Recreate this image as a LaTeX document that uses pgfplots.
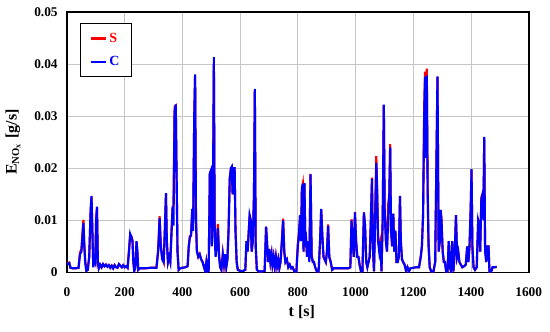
\documentclass[border=0pt]{standalone}
\usepackage{fontspec}
\setmainfont{Liberation Serif}
\usepackage{pgfplots}
\usepackage{pgfplotstable}
\pgfplotsset{compat=1.18}
\pgfplotstableread{
t C S
0 0.0015 0.0016
3 0.0017 0.0018
8 0.0018 0.0019
12 0.0009 0.0009
20 0.0008 0.0008
30 0.0008 0.0008
40 0.0009 0.0009
45 0.0035 0.0038
50 0.0040 0.0045
54 0.0070 0.0080
57 0.0095 0.0101
60 0.0050 0.0055
63 0.0020 0.0025
67 0.0003 0.0003
72 0.0005 0.0005
77 0.0030 0.0030
82 0.0120 0.0120
85 0.0147 0.0145
88 0.0080 0.0080
91 0.0010 0.0012
95 0.0025 0.0025
98 0.0020 0.0020
101 0.0100 0.0105
104 0.0126 0.0124
107 0.0020 0.0020
110 0.0008 0.0008
115 0.0015 0.0015
120 0.0010 0.0010
125 0.0016 0.0016
130 0.0012 0.0012
135 0.0015 0.0015
140 0.0011 0.0011
145 0.0014 0.0014
150 0.0009 0.0009
155 0.0013 0.0013
160 0.0008 0.0008
165 0.0014 0.0014
170 0.0010 0.0010
175 0.0009 0.0009
180 0.0016 0.0016
185 0.0013 0.0013
190 0.0010 0.0010
195 0.0014 0.0014
200 0.0010 0.0010
205 0.0012 0.0012
210 0.0009 0.0009
215 0.0040 0.0045
219 0.0074 0.0072
223 0.0068 0.0070
227 0.0060 0.0062
230 0.0020 0.0020
233 0.0003 0.0003
237 0.0010 0.0010
241 0.0060 0.0058
244 0.0040 0.0040
247 0.0005 0.0005
252 0.0008 0.0008
270 0.0008 0.0008
290 0.0009 0.0009
310 0.0009 0.0009
316 0.0040 0.0045
321 0.0104 0.0108
325 0.0050 0.0055
330 0.0025 0.0028
335 0.0020 0.0020
339 0.0080 0.0080
343 0.0152 0.0150
346 0.0060 0.0060
350 0.0020 0.0020
354 0.0030 0.0030
358 0.0020 0.0022
362 0.0070 0.0080
366 0.0126 0.0122
369 0.0090 0.0130
373 0.0310 0.0318
377 0.0322 0.0320
380 0.0180 0.0180
383 0.0040 0.0040
387 0.0005 0.0005
392 0.0008 0.0008
400 0.0009 0.0009
410 0.0010 0.0010
418 0.0012 0.0012
422 0.0050 0.0050
426 0.0068 0.0070
430 0.0072 0.0070
434 0.0122 0.0118
437 0.0080 0.0085
441 0.0300 0.0300
444 0.0380 0.0378
447 0.0100 0.0110
450 0.0040 0.0045
455 0.0030 0.0030
460 0.0035 0.0035
465 0.0025 0.0025
470 0.0020 0.0020
475 0.0010 0.0010
479 0.0003 0.0003
483 0.0020 0.0020
487 0.0002 0.0002
491 0.0003 0.0003
495 0.0190 0.0190
499 0.0196 0.0195
502 0.0050 0.0060
506 0.0150 0.0170
509 0.0413 0.0400
512 0.0070 0.0080
515 0.0030 0.0040
519 0.0050 0.0060
523 0.0085 0.0093
527 0.0030 0.0035
531 0.0010 0.0010
535 0.0005 0.0005
540 0.0035 0.0035
544 0.0015 0.0015
548 0.0035 0.0035
552 0.0010 0.0010
556 0.0025 0.0025
560 0.0080 0.0085
564 0.0180 0.0180
568 0.0200 0.0200
571 0.0203 0.0200
574 0.0150 0.0150
577 0.0200 0.0200
581 0.0200 0.0200
584 0.0080 0.0080
588 0.0020 0.0020
592 0.0005 0.0005
600 0.0003 0.0003
610 0.0003 0.0003
618 0.0005 0.0005
622 0.0060 0.0060
626 0.0040 0.0040
630 0.0080 0.0080
633 0.0110 0.0108
637 0.0100 0.0100
640 0.0040 0.0040
644 0.0060 0.0060
648 0.0150 0.0150
651 0.0352 0.0350
654 0.0050 0.0050
658 0.0005 0.0005
665 0.0002 0.0002
675 0.0002 0.0002
685 0.0003 0.0003
690 0.0088 0.0088
694 0.0050 0.0050
697 0.0020 0.0020
701 0.0045 0.0045
705 0.0020 0.0020
709 0.0035 0.0035
712 0.0015 0.0015
716 0.0030 0.0030
720 0.0010 0.0010
724 0.0030 0.0030
728 0.0012 0.0012
732 0.0025 0.0025
736 0.0008 0.0008
740 0.0020 0.0020
745 0.0060 0.0065
749 0.0100 0.0103
753 0.0040 0.0040
757 0.0020 0.0020
762 0.0025 0.0025
767 0.0010 0.0010
772 0.0015 0.0015
777 0.0008 0.0008
782 0.0010 0.0010
788 0.0002 0.0002
795 0.0002 0.0002
800 0.0050 0.0055
804 0.0075 0.0075
808 0.0110 0.0110
811 0.0060 0.0060
814 0.0160 0.0162
817 0.0170 0.0170
820 0.0040 0.0040
823 0.0172 0.0170
826 0.0050 0.0050
829 0.0060 0.0060
832 0.0030 0.0030
836 0.0060 0.0060
840 0.0020 0.0025
844 0.0188 0.0189
848 0.0030 0.0035
852 0.0020 0.0020
856 0.0020 0.0020
860 0.0010 0.0010
866 0.0002 0.0002
872 0.0002 0.0002
877 0.0060 0.0060
881 0.0122 0.0120
885 0.0070 0.0070
889 0.0030 0.0030
893 0.0025 0.0025
897 0.0020 0.0020
901 0.0040 0.0040
905 0.0090 0.0092
909 0.0030 0.0030
914 0.0020 0.0020
919 0.0005 0.0005
925 0.0008 0.0008
950 0.0008 0.0008
975 0.0008 0.0008
982 0.0010 0.0010
986 0.0100 0.0102
990 0.0060 0.0060
994 0.0030 0.0030
998 0.0115 0.0116
1002 0.0060 0.0060
1006 0.0030 0.0030
1010 0.0030 0.0030
1014 0.0015 0.0015
1019 0.0002 0.0002
1024 0.0003 0.0003
1029 0.0115 0.0115
1033 0.0090 0.0090
1037 0.0020 0.0020
1041 0.0010 0.0010
1045 0.0020 0.0020
1049 0.0030 0.0030
1053 0.0100 0.0100
1057 0.0180 0.0182
1060 0.0050 0.0050
1064 0.0002 0.0002
1068 0.0100 0.0120
1072 0.0210 0.0223
1075 0.0150 0.0160
1078 0.0060 0.0070
1082 0.0040 0.0050
1086 0.0060 0.0060
1090 0.0002 0.0002
1094 0.0100 0.0100
1098 0.0322 0.0320
1101 0.0120 0.0120
1105 0.0060 0.0070
1109 0.0040 0.0040
1113 0.0100 0.0130
1117 0.0150 0.0150
1120 0.0240 0.0246
1123 0.0080 0.0080
1127 0.0050 0.0050
1131 0.0113 0.0113
1134 0.0040 0.0040
1138 0.0080 0.0080
1142 0.0020 0.0020
1146 0.0020 0.0020
1150 0.0030 0.0030
1154 0.0147 0.0147
1157 0.0060 0.0060
1161 0.0025 0.0025
1165 0.0020 0.0020
1170 0.0015 0.0015
1175 0.0003 0.0003
1180 0.0010 0.0010
1185 0.0002 0.0002
1190 0.0008 0.0008
1200 0.0009 0.0009
1210 0.0010 0.0010
1220 0.0010 0.0010
1226 0.0030 0.0030
1230 0.0050 0.0050
1234 0.0110 0.0110
1238 0.0300 0.0320
1241 0.0375 0.0385
1244 0.0220 0.0230
1247 0.0378 0.0391
1250 0.0150 0.0160
1253 0.0050 0.0060
1257 0.0010 0.0010
1262 0.0002 0.0002
1270 0.0002 0.0002
1276 0.0020 0.0020
1280 0.0200 0.0200
1284 0.0376 0.0374
1288 0.0040 0.0040
1292 0.0060 0.0060
1295 0.0120 0.0120
1298 0.0100 0.0100
1302 0.0040 0.0040
1306 0.0020 0.0020
1310 0.0020 0.0020
1314 0.0002 0.0002
1319 0.0002 0.0002
1323 0.0060 0.0060
1327 0.0010 0.0010
1331 0.0002 0.0002
1335 0.0060 0.0060
1339 0.0002 0.0002
1344 0.0040 0.0040
1348 0.0110 0.0110
1352 0.0030 0.0030
1356 0.0040 0.0040
1360 0.0020 0.0020
1365 0.0015 0.0015
1370 0.0010 0.0010
1376 0.0012 0.0012
1382 0.0015 0.0015
1387 0.0050 0.0050
1391 0.0020 0.0020
1395 0.0050 0.0050
1399 0.0120 0.0125
1402 0.0198 0.0196
1405 0.0050 0.0050
1409 0.0010 0.0010
1414 0.0005 0.0005
1420 0.0010 0.0010
1425 0.0100 0.0100
1429 0.0090 0.0100
1432 0.0040 0.0040
1436 0.0140 0.0145
1440 0.0150 0.0150
1443 0.0100 0.0110
1446 0.0260 0.0255
1449 0.0040 0.0050
1453 0.0020 0.0020
1457 0.0050 0.0050
1461 0.0050 0.0050
1464 0.0002 0.0002
1470 0.0002 0.0002
1475 0.0010 0.0010
1482 0.0010 0.0010
1489 0.0011 0.0011
}\datatable
\begin{document}
\begin{tikzpicture}
\begin{axis}[
  scale only axis,
  width=346.3pt, height=195.6pt,
  xmin=0, xmax=1600, ymin=0, ymax=0.05,
  xtick={0,200,...,1600},
  xticklabels={0,200,400,600,800,1000,1200,1400,1600},
  ytick={0,0.01,0.02,0.03,0.04,0.05},
  yticklabels={0,0.01,0.02,0.03,0.04,0.05},
  scaled y ticks=false, scaled x ticks=false,
  ticklabel style={font=\fontsize{10}{12}\selectfont\bfseries},
  xticklabel style={yshift=-7.5pt},
  yticklabel style={xshift=-3.5pt},
  major tick length=0pt,
  grid=major,
  grid style={gray!45, line width=0.5pt},
  axis line style={line width=1.4pt},
  xlabel={t [s]},
  ylabel={E\textsubscript{NO\textsubscript{x}} [g/s]},
  label style={font=\fontsize{12}{14}\selectfont\bfseries},
  xlabel style={at={([xshift=3pt,yshift=-30pt]axis description cs:0.5,0)}, anchor=center},
  ylabel style={at={([xshift=-40.5pt]axis description cs:0,0.5)}, anchor=center},
  legend style={at={(0.0282,0.957)}, anchor=north west, draw=black, line width=0.9pt,
    font=\fontsize{10.5}{12}\selectfont\bfseries, row sep=5pt, inner xsep=7pt, inner ysep=5pt},
  legend cell align=left,
  legend image code/.code={\path (0pt,0pt) -- (11pt,0pt); \draw[#1, line width=1.6pt] (1pt,0pt) -- (8pt,0pt);},
]
\addplot[red, line width=1.6pt] table[x=t, y=S] {\datatable};
\addlegendentry{\textcolor{red}{S}}
\addplot[blue, line width=1.6pt] table[x=t, y=C] {\datatable};
\addlegendentry{\textcolor{blue}{C}}
\end{axis}
\path ([xshift=-50.25pt,yshift=-44.6pt]current axis.south west) rectangle ([xshift=16pt,yshift=8.8pt]current axis.north east);
\end{tikzpicture}
\end{document}
